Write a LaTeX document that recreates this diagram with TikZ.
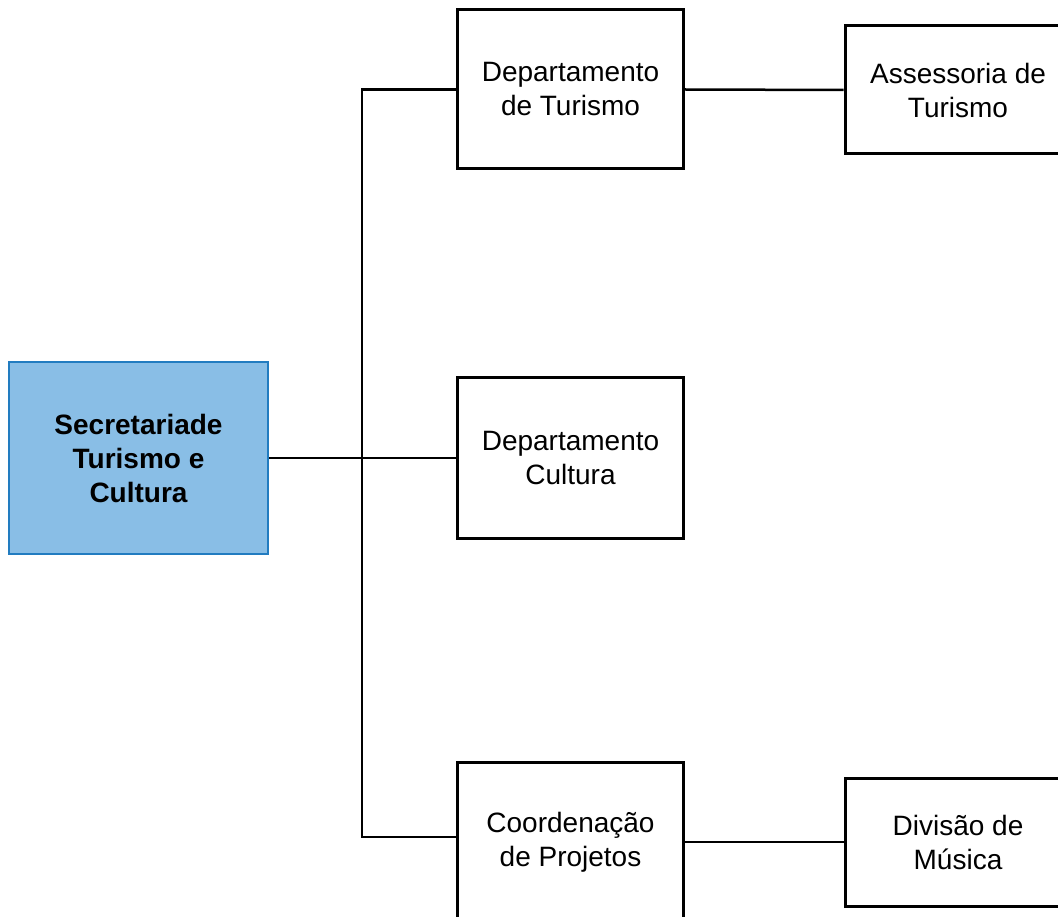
\documentclass[tikz,border=0pt]{standalone}
\usepackage{fontspec}
\setmainfont{Liberation Sans}
\definecolor{secfill}{RGB}{137,190,230}
\definecolor{secdraw}{RGB}{34,124,192}
\begin{document}
\begin{tikzpicture}[x=1pt,y=-1pt,
  box/.style={draw=black, line width=3pt, fill=white, align=center, inner sep=0pt,
    font=\fontsize{28}{34}\selectfont, minimum width=226pt},
  secbox/.style={draw=secdraw, line width=2.5pt, fill=secfill, align=center, inner sep=0pt,
    font=\fontsize{28}{34}\selectfont\bfseries, minimum width=259pt, minimum height=192pt},
  conn/.style={draw=black, line width=2.5pt}]
\useasboundingbox (0,0) rectangle (1058,917);
\clip (0,0) rectangle (1058,917);
\fill[white] (0,0) rectangle (1058,917);
\node[secbox] (sec) at (138.5,458) {Secretariade\\Turismo e\\Cultura};
\node[box, minimum height=159pt] (dt) at (570.5,89.5) {Departamento\\de Turismo};
\node[box, minimum height=160pt] (dc) at (570.5,458) {Departamento\\Cultura};
\node[box, minimum height=160pt] (cp) at (570.5,842) {Coordenação\\de Projetos};
\node[box, minimum height=128pt] (as) at (958,90) {Assessoria de\\Turismo};
\node[box, minimum height=128pt] (dm) at (958,842) {Divisão de\\Música};
\coordinate (j) at (362,458);
\draw[conn] (sec.east) -- (dc.west);
\draw[conn, line join=miter] (dt.west) -| (j) |- ([yshift=5pt]cp.west);
\draw[conn] (dt.east) -- (as.west);
\draw[conn] (cp.east) -- (dm.west);
\end{tikzpicture}
\end{document}
